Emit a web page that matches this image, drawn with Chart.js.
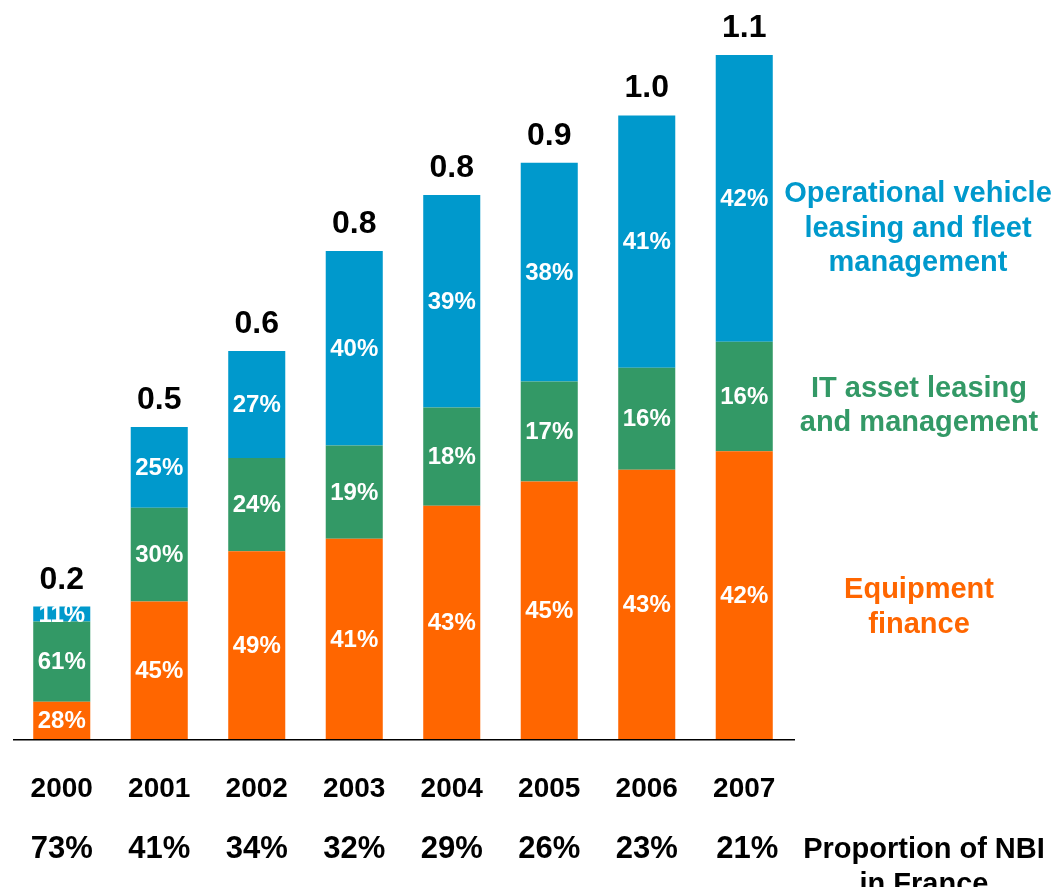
<!DOCTYPE html>
<html>
<head>
<meta charset="utf-8">
<script src="https://cdn.jsdelivr.net/npm/chart.js@4/dist/chart.umd.min.js"></script>
<style>
  html, body { margin: 0; padding: 0; background: #ffffff; }
  #wrap { width: 1056px; height: 887px; position: relative; }
</style>
</head>
<body>
<div id="wrap"><canvas id="c" width="1056" height="887"></canvas></div>
<script>
// ---- Data (NBI, EUR bn) ----
const years = ['2000', '2001', '2002', '2003', '2004', '2005', '2006', '2007'];
const equipmentFinance = [0.060, 0.221, 0.302, 0.322, 0.375, 0.414, 0.433, 0.463];
const itAssetLeasing   = [0.129, 0.151, 0.150, 0.150, 0.158, 0.161, 0.164, 0.176];
const vehicleLeasing   = [0.024, 0.130, 0.172, 0.313, 0.342, 0.352, 0.406, 0.461];
const totalLabels      = ['0.2', '0.5', '0.6', '0.8', '0.8', '0.9', '1.0', '1.1'];
const equipmentShare   = ['28%', '45%', '49%', '41%', '43%', '45%', '43%', '42%'];
const itShare          = ['61%', '30%', '24%', '19%', '18%', '17%', '16%', '16%'];
const vehicleShare     = ['11%', '25%', '27%', '40%', '39%', '38%', '41%', '42%'];
const nbiFrance        = ['73%', '41%', '34%', '32%', '29%', '26%', '23%', '21%'];
const seriesNames = {
  vehicle: ['Operational vehicle', 'leasing and fleet', 'management'],
  it: ['IT asset leasing', 'and management'],
  equipment: ['Equipment', 'finance'],
  nbi: ['Proportion of NBI', 'in France']
};

const BLUE = '#0099CC', GREEN = '#339966', ORANGE = '#FF6600';
const FONT = '"Liberation Sans", Arial, Helvetica, sans-serif';

const labelPlugin = {
  id: 'labels',
  afterDatasetsDraw(chart) {
    const ctx = chart.ctx;
    const area = chart.chartArea;
    const xs = chart.scales.x;
    ctx.save();

    // baseline axis
    ctx.strokeStyle = '#000000';
    ctx.lineWidth = 1.5;
    ctx.beginPath();
    ctx.moveTo(13, area.bottom + 0.75);
    ctx.lineTo(795, area.bottom + 0.75);
    ctx.stroke();

    // inside segment labels
    const shares = [equipmentShare, itShare, vehicleShare];
    ctx.fillStyle = '#ffffff';
    ctx.font = 'bold 24px ' + FONT;
    ctx.textAlign = 'center';
    ctx.textBaseline = 'middle';
    shares.forEach((arr, di) => {
      const meta = chart.getDatasetMeta(di);
      meta.data.forEach((bar, i) => {
        const cy = (bar.y + bar.base) / 2;
        ctx.fillText(arr[i], bar.x, cy + 1);
      });
    });

    // totals above bars
    ctx.fillStyle = '#000000';
    ctx.font = 'bold 32px ' + FONT;
    ctx.textBaseline = 'alphabetic';
    const topMeta = chart.getDatasetMeta(2);
    topMeta.data.forEach((bar, i) => {
      ctx.fillText(totalLabels[i], bar.x, bar.y - 18);
    });

    // year row and NBI row
    years.forEach((y, i) => {
      const x = xs.getPixelForValue(i);
      ctx.font = 'bold 28px ' + FONT;
      ctx.fillText(y, x, 797);
      ctx.font = 'bold 31px ' + FONT;
      ctx.fillText(nbiFrance[i], x + (i === 7 ? 3 : 0), 858);
    });

    // right-side series names
    ctx.font = 'bold 29px ' + FONT;
    ctx.fillStyle = BLUE;
    seriesNames.vehicle.forEach((t, k) => ctx.fillText(t, 918, 202 + k * 34.5));
    ctx.fillStyle = GREEN;
    seriesNames.it.forEach((t, k) => ctx.fillText(t, 919, 397 + k * 34));
    ctx.fillStyle = ORANGE;
    seriesNames.equipment.forEach((t, k) => ctx.fillText(t, 919, 598 + k * 35));
    ctx.fillStyle = '#000000';
    seriesNames.nbi.forEach((t, k) => ctx.fillText(t, 924, 858 + k * 35));

    ctx.restore();
  }
};

new Chart(document.getElementById('c'), {
  type: 'bar',
  data: {
    labels: years,
    datasets: [
      { label: 'Equipment finance', data: equipmentFinance, backgroundColor: ORANGE },
      { label: 'IT asset leasing and management', data: itAssetLeasing, backgroundColor: GREEN },
      { label: 'Operational vehicle leasing and fleet management', data: vehicleLeasing, backgroundColor: BLUE }
    ]
  },
  options: {
    responsive: false,
    animation: false,
    devicePixelRatio: 1,
    layout: { padding: { left: 13, right: 263, top: 24, bottom: 148 } },
    datasets: { bar: { barPercentage: 0.585, categoryPercentage: 1.0, borderWidth: 0 } },
    plugins: { legend: { display: false }, tooltip: { enabled: false } },
    scales: {
      x: { stacked: true, display: false },
      y: { stacked: true, display: false, min: 0, max: 1.15 }
    }
  },
  plugins: [labelPlugin]
});
</script>
</body>
</html>
